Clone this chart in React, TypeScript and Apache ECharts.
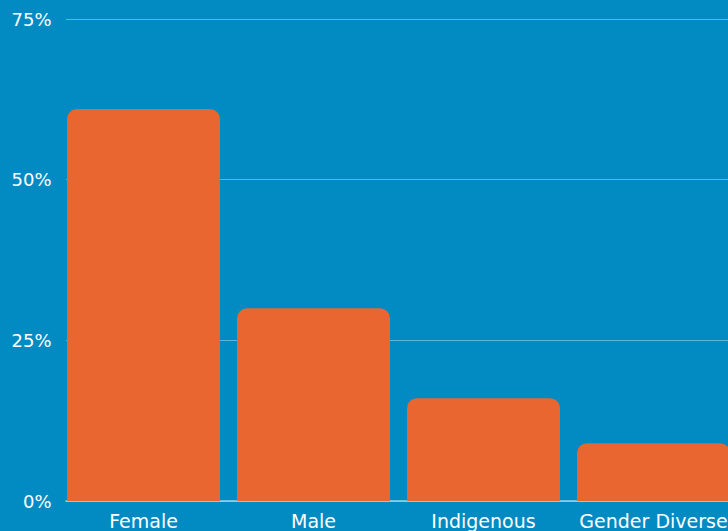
import React, { useEffect, useRef } from "react";
import * as echarts from "echarts";

const categories = ["Female", "Male", "Indigenous", "Gender Diverse"];
const values = [61, 30, 16, 9];
const yTicks = [0, 25, 50, 75];

export default function App() {
  const ref = useRef<HTMLDivElement>(null);
  useEffect(() => {
    const chart = echarts.init(ref.current!, null, { renderer: "svg" });
    chart.setOption({
      animation: false,
      backgroundColor: "#028BC2",
      textStyle: { fontFamily: "DejaVu Sans" },
      grid: [
        { left: 58.5, width: 680, top: 19, bottom: 30, containLabel: false, outerBoundsMode: "none" },
        { left: 66, right: 0, top: 19, bottom: 30, containLabel: false, outerBoundsMode: "none" },
      ],
      xAxis: [
        {
          type: "category",
          gridIndex: 0,
          data: categories,
          axisLine: { show: false },
          axisTick: { show: false },
          axisLabel: { color: "#ffffff", fontSize: 19, margin: 10, interval: 0, hideOverlap: false },
        },
        {
          type: "category",
          gridIndex: 1,
          data: categories,
          axisLine: { show: true, lineStyle: { color: "#9ED2EA", width: 1.5 } },
          axisTick: { show: false },
          axisLabel: { show: false },
        },
      ],
      yAxis: [
        {
          type: "value",
          gridIndex: 0,
          min: yTicks[0],
          max: yTicks[yTicks.length - 1],
          interval: 25,
          splitLine: { show: false },
          axisLine: { show: false },
          axisTick: { show: false },
          axisLabel: { color: "#ffffff", fontSize: 18, margin: 7, formatter: "{value}%" },
        },
        {
          type: "value",
          gridIndex: 1,
          min: yTicks[0],
          max: yTicks[yTicks.length - 1],
          interval: 25,
          splitLine: { show: true, lineStyle: { color: "#5FB5DC", width: 1 } },
          axisLine: { show: false },
          axisTick: { show: false },
          axisLabel: { show: false },
        },
      ],
      series: [
        {
          type: "bar",
          xAxisIndex: 0,
          yAxisIndex: 0,
          data: values,
          barWidth: 153,
          z: 3,
          itemStyle: { color: "#EA6630", borderRadius: [10, 10, 0, 0] },
        },
      ],
    });
    return () => chart.dispose();
  }, []);
  return <div ref={ref} style={{ width: 728, height: 531, position: "absolute", left: 0, top: 0 }} />;
}
